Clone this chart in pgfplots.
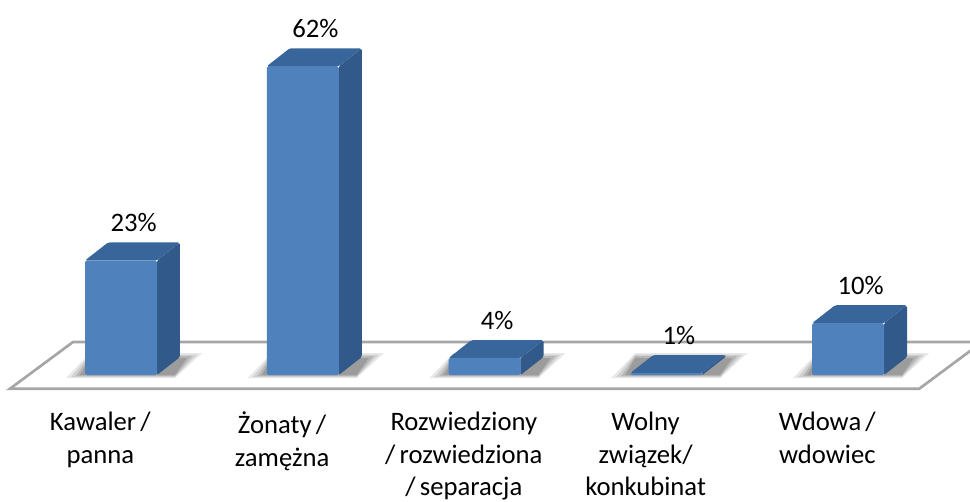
\documentclass[border=0pt]{standalone}
\usepackage{fontspec}
\setmainfont[WordSpace=0.7]{Carlito}
\usepackage{pgfplots}
\pgfplotsset{compat=1.18}

\definecolor{front}{HTML}{4F81BD}
\definecolor{topface}{HTML}{38659A}
\definecolor{sideface}{HTML}{31598A}
\definecolor{floorline}{HTML}{A6A6A6}

% soft shadow on the floor: nested parallelograms around a bar at x=#1
\newcommand{\softshadow}[1]{%
  \addplot[draw=none, fill=black, fill opacity=.09] coordinates {(#1-0.303,-0.6) (#1+0.297,-0.6) (#1+0.446,4.4) (#1-0.171,4.4)} --cycle;
  \addplot[draw=none, fill=black, fill opacity=.10] coordinates {(#1-0.275,-0.4) (#1+0.297,-0.4) (#1+0.418,4.1) (#1-0.171,4.1)} --cycle;
  \addplot[draw=none, fill=black, fill opacity=.12] coordinates {(#1-0.248,-0.2) (#1+0.297,-0.2) (#1+0.391,3.8) (#1-0.171,3.8)} --cycle;
  \addplot[draw=none, fill=black, fill opacity=.14] coordinates {(#1-0.226,0) (#1+0.297,0) (#1+0.363,3.4) (#1-0.171,3.4)} --cycle;
}

\begin{document}
\begin{tikzpicture}
  \path[use as bounding box] (0pt,-72.75pt) rectangle (727.5pt,303.75pt);
  \begin{axis}[
    at={(0pt,0pt)},
    anchor=south west,
    scale only axis,
    width=727.5pt,
    height=303.75pt,
    xmin=-0.6658, xmax=4.671,
    ymin=-6.02, ymax=75.3,
    axis line style={draw=none},
    tick style={draw=none},
    ytick=\empty,
    xtick={0,1,2,3,4},
    xticklabels={{Kawaler /\\panna},{Żonaty /\\zamężna},{Rozwiedziony\\/ rozwiedziona\\/ separacja},{Wolny\\związek/\\konkubinat},{Wdowa /\\wdowiec}},
    xticklabel style={align=center, font=\fontsize{20}{24.6}\selectfont, xshift=-15.5pt, yshift=-1.5pt},
  ]
    % floor
    \addplot[draw=floorline, fill=white, line width=2pt, line join=miter]
      coordinates {(-0.6108,-2.75) (-0.2640,6.63) (4.7380,6.63) (4.3920,-2.75)} --cycle;

    % shadows
    \softshadow{0}
    \softshadow{1}
    \softshadow{2}
    \softshadow{3}
    \softshadow{4}

    % side faces
    \addplot[fill=sideface, draw=none, rounded corners=1.2pt] coordinates {(0.198,0) (0.3245,3.61) (0.3245,26.61) (0.198,23)} --cycle;
    \addplot[fill=sideface, draw=none, rounded corners=1.2pt] coordinates {(1.198,0) (1.3245,3.61) (1.3245,65.61) (1.198,62)} --cycle;
    \addplot[fill=sideface, draw=none, rounded corners=1.2pt] coordinates {(2.198,0) (2.3245,3.61) (2.3245,7.01) (2.198,3.4)} --cycle;
    \addplot[fill=sideface, draw=none] coordinates {(3.198,0) (3.3245,3.61) (3.3245,4.01) (3.198,0.4)} --cycle;
    \addplot[fill=sideface, draw=none, rounded corners=1.2pt] coordinates {(4.198,0) (4.3245,3.61) (4.3245,14.01) (4.198,10.4)} --cycle;

    % top faces
    \addplot[fill=topface, draw=none, rounded corners=1.2pt] coordinates {(-0.198,23) (0.198,23) (0.3245,26.61) (-0.0715,26.61)} --cycle;
    \addplot[fill=topface, draw=none, rounded corners=1.2pt] coordinates {(0.802,62) (1.198,62) (1.3245,65.61) (0.9285,65.61)} --cycle;
    \addplot[fill=topface, draw=none, rounded corners=1.2pt] coordinates {(1.802,3.4) (2.198,3.4) (2.3245,7.01) (1.9285,7.01)} --cycle;
    \addplot[fill=topface, draw=none, rounded corners=1.2pt] coordinates {(2.802,0.4) (3.198,0.4) (3.3245,4.01) (2.9285,4.01)} --cycle;
    \addplot[fill=topface, draw=none, rounded corners=1.2pt] coordinates {(3.802,10.4) (4.198,10.4) (4.3245,14.01) (3.9285,14.01)} --cycle;

    % front faces with the printed labels
    \addplot[
      ybar, bar width=54pt, bar shift=0pt,
      fill=front, draw=none, rounded corners=1.2pt,
      point meta=explicit symbolic,
      nodes near coords,
      every node near coord/.append style={
        font=\fontsize{20}{23}\selectfont, text=black,
        anchor=south, xshift=9.5pt, yshift=18pt},
    ] coordinates {
      (0,23)[23\%]
      (1,62)[62\%]
      (2,3.4)[4\%]
      (3,0.4)[1\%]
      (4,10.4)[10\%]
    };
  \end{axis}
\end{tikzpicture}
\end{document}
